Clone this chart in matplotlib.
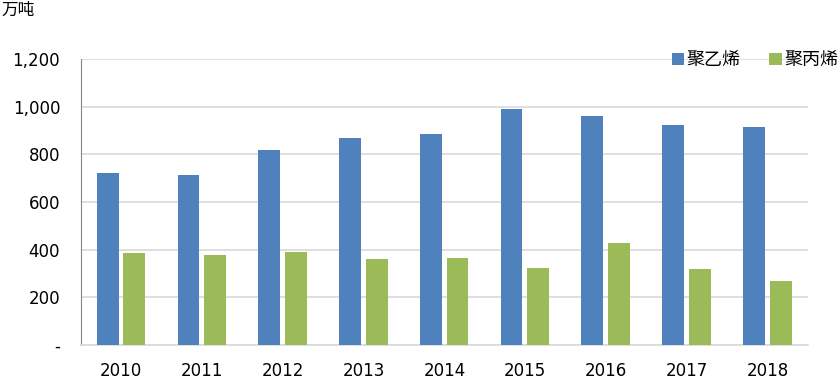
import matplotlib
matplotlib.use('Agg')
import matplotlib.pyplot as plt
import numpy as np

# data
years = ['2010', '2011', '2012', '2013', '2014', '2015', '2016', '2017', '2018']
pe = [721, 713, 818, 868, 885, 990, 960, 922, 914]
pp = [386, 377, 390, 360, 365, 323, 428, 319, 268]
series_names = ['聚乙烯', '聚丙烯']
yticks = [0, 200, 400, 600, 800, 1000, 1200]

plt.rcParams['font.family'] = ['DejaVu Sans', 'Noto Sans CJK SC']

fig = plt.figure(figsize=(8.4, 3.81), dpi=100)
ax = fig.add_axes([0.0964, 0.0945, 0.8656, 0.7505])

x = np.arange(len(years))
w = 0.27
ax.bar(x - 0.17, pe, width=w, color='#4f81bd', label=series_names[0], zorder=3)
ax.bar(x + 0.16, pp, width=w, color='#9bbb59', label=series_names[1], zorder=3)

ax.set_xlim(-0.5, len(years) - 0.5)
ax.set_ylim(0, 1200)
ax.set_yticks(yticks)
ax.set_yticklabels(['-' if v == 0 else f'{v:,}' for v in yticks])
ax.set_xticks(x)
ax.set_xticklabels(years)
ax.yaxis.grid(True, color='#d9d9d9', linewidth=1.2, zorder=0)
ax.tick_params(axis='both', length=0, labelsize=12, colors='black')
ax.tick_params(axis='y', pad=15)
ax.tick_params(axis='x', pad=12.5)

for side in ['top', 'right']:
    ax.spines[side].set_visible(False)
ax.spines['left'].set_color('#868686')
ax.spines['bottom'].set_color('#d9d9d9')
ax.spines['bottom'].set_linewidth(1.2)

fig.text(0.002, 0.972, '万吨', fontsize=12, family=['Noto Sans CJK SC'], va='center', ha='left')

leg = ax.legend(loc='center right', bbox_to_anchor=(1.064, 0.995), ncol=2, frameon=False,
                prop={'family': 'Noto Sans CJK SC', 'size': 13},
                handlelength=0.7, handleheight=0.7, handletextpad=0.14, columnspacing=1.57)

fig.savefig('out.png', dpi=100, facecolor='white')
